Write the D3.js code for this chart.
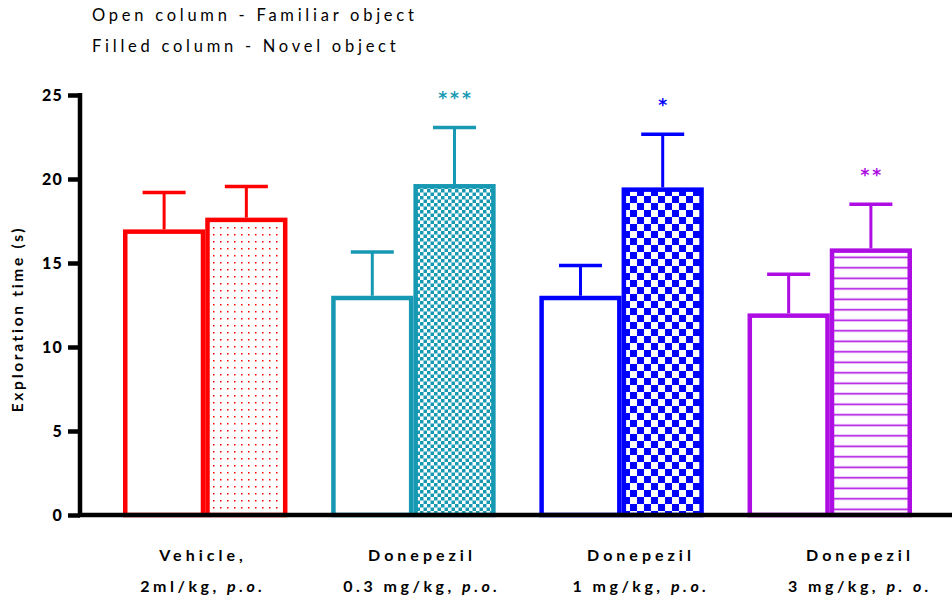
<!DOCTYPE html>
<html>
<head>
<meta charset="utf-8">
<script src="https://cdn.jsdelivr.net/npm/d3@7"></script>
<style>
  html, body { margin: 0; padding: 0; background: #fff; }
  svg { display: block; font-family: Lato, "Open Sans", sans-serif; }
</style>
</head>
<body>
<svg id="chart" width="952" height="598"></svg>
<script>
// ---- data ----
const groups = ["vehicle", "don03", "don1", "don3"];
const labelLine1 = ["Vehicle,", "Donepezil", "Donepezil", "Donepezil"];
const labelDose = ["2ml/kg, ", "0.3 mg/kg, ", "1 mg/kg, ", "3 mg/kg, "];
const labelRoute = ["p.o.", "p.o.", "p.o.", "p. o."];
const familiarMean = [17.0, 13.05, 13.05, 12.0];
const familiarSem  = [2.2, 2.6, 1.8, 2.33];
const novelMean    = [17.7, 19.7, 19.5, 15.87];
const novelSem     = [1.85, 3.37, 3.16, 2.63];
const significance = ["", "***", "*", "**"];
const yTicks = [0, 5, 10, 15, 20, 25];
const legendLines = ["Open column - Familiar object", "Filled column - Novel object"];
const yTitle = "Exploration time (s)";

// ---- styles ----
const colors = ["#ff0000", "#1799b3", "#0000ff", "#ad0ce3"];

const svg = d3.select("#chart");
const defs = svg.append("defs");

// patterns
function patDots(id, c) {
  const p = defs.append("pattern").attr("id", id).attr("patternUnits", "userSpaceOnUse")
    .attr("width", 7).attr("height", 7);
  p.append("rect").attr("width", 7).attr("height", 7).attr("fill", "#fff");
  p.append("rect").attr("x", 3).attr("y", 3).attr("width", 1.5).attr("height", 1.5).attr("fill", c);
}
function patChecker(id, c, s) {
  const p = defs.append("pattern").attr("id", id).attr("patternUnits", "userSpaceOnUse")
    .attr("width", 2 * s).attr("height", 2 * s);
  p.append("rect").attr("width", 2 * s).attr("height", 2 * s).attr("fill", "#fff");
  p.append("rect").attr("width", s).attr("height", s).attr("fill", c);
  p.append("rect").attr("x", s).attr("y", s).attr("width", s).attr("height", s).attr("fill", c);
}
function patLines(id, c) {
  const p = defs.append("pattern").attr("id", id).attr("patternUnits", "userSpaceOnUse")
    .attr("width", 10).attr("height", 10.5);
  p.append("rect").attr("width", 10).attr("height", 10.5).attr("fill", "#fff");
  p.append("rect").attr("y", 4.5).attr("width", 10).attr("height", 1.6).attr("fill", c);
}
patDots("p0", colors[0]);
patChecker("p1", colors[1], 3.5);
patChecker("p2", colors[2], 7);
patLines("p3", colors[3]);

// ---- scales ----
const y = d3.scaleLinear().domain([0, 25]).range([515, 95]);
const x = d3.scaleBand().domain(groups).range([123, 912]).paddingInner(0.21).paddingOuter(0);
const sub = d3.scaleBand().domain(["familiar", "novel"]).range([0, x.bandwidth()]);
const xLabel = d3.scalePoint().domain(groups).range([203, 860]);

// ---- bars ----
const bw = sub.bandwidth();
const sw = 4.5;
groups.forEach((g, i) => {
  const c = colors[i];
  const gx = x(g);
  const items = [
    {k: "familiar", m: familiarMean[i], s: familiarSem[i], fill: "#fff"},
    {k: "novel", m: novelMean[i], s: novelSem[i], fill: `url(#p${i})`}
  ];
  items.forEach(it => {
    const x0 = gx + sub(it.k);
    const cx = x0 + bw / 2;
    // error bar
    svg.append("line").attr("x1", cx).attr("x2", cx)
      .attr("y1", y(it.m)).attr("y2", y(it.m + it.s))
      .attr("stroke", c).attr("stroke-width", 3);
    svg.append("line").attr("x1", cx - 21.5).attr("x2", cx + 21.5)
      .attr("y1", y(it.m + it.s)).attr("y2", y(it.m + it.s))
      .attr("stroke", c).attr("stroke-width", 3.5);
    // bar
    svg.append("rect")
      .attr("x", x0 + sw / 2).attr("y", y(it.m) + sw / 2)
      .attr("width", bw - sw).attr("height", y(0) - y(it.m) - sw / 2)
      .attr("fill", it.fill).attr("stroke", c).attr("stroke-width", sw);
  });
  // significance
  if (significance[i]) {
    const cx = gx + sub("novel") + bw / 2;
    svg.append("text").attr("x", cx + 1.5).attr("y", y(novelMean[i] + novelSem[i]) - 23)
      .attr("text-anchor", "middle").attr("fill", c)
      .attr("font-family", "DejaVu Sans, sans-serif")
      .attr("font-size", 17).attr("font-weight", 700).attr("letter-spacing", 3)
      .text(significance[i]);
  }
});

// ---- axes ----
const yAxis = svg.append("g").attr("transform", "translate(80,0)")
  .call(d3.axisLeft(y).tickValues(yTicks).tickSize(12).tickPadding(5).tickFormat(d3.format("d")));
yAxis.select(".domain").attr("d", `M0,${y(25) - 2}V${y(0)}`).attr("stroke", "#000").attr("stroke-width", 4.5);
yAxis.selectAll(".tick line").attr("stroke", "#000").attr("stroke-width", 4.5);
yAxis.selectAll(".tick text").attr("fill", "#000").attr("font-size", 16).attr("font-weight", 900)
  .attr("letter-spacing", 1.2).attr("font-family", "Lato, sans-serif");

svg.append("line").attr("x1", 78).attr("x2", 952).attr("y1", y(0)).attr("y2", y(0))
  .attr("stroke", "#000").attr("stroke-width", 4.5);

// x labels
groups.forEach((g, i) => {
  const cx = xLabel(g);
  svg.append("text").attr("x", cx).attr("y", 561).attr("text-anchor", "middle")
    .attr("font-size", 16).attr("font-weight", 700).attr("letter-spacing", 4).attr("fill", "#000")
    .text(labelLine1[i]);
  const t = svg.append("text").attr("x", cx).attr("y", 592).attr("text-anchor", "middle")
    .attr("font-size", 16).attr("font-weight", 700).attr("letter-spacing", 3.5).attr("fill", "#000");
  t.append("tspan").text(labelDose[i]);
  t.append("tspan").attr("font-style", "italic").text(labelRoute[i]);
});

// y title
svg.append("text").attr("transform", "translate(23,319) rotate(-90)")
  .attr("text-anchor", "middle").attr("font-size", 15.5).attr("font-weight", 700)
  .attr("letter-spacing", 2.7).attr("fill", "#000").text(yTitle);

// legend lines
legendLines.forEach((s, i) => {
  svg.append("text").attr("x", 92).attr("y", 21 + i * 31)
    .attr("font-size", 16.5).attr("letter-spacing", 3.75).attr("fill", "#000").text(s);
});
</script>
</body>
</html>
